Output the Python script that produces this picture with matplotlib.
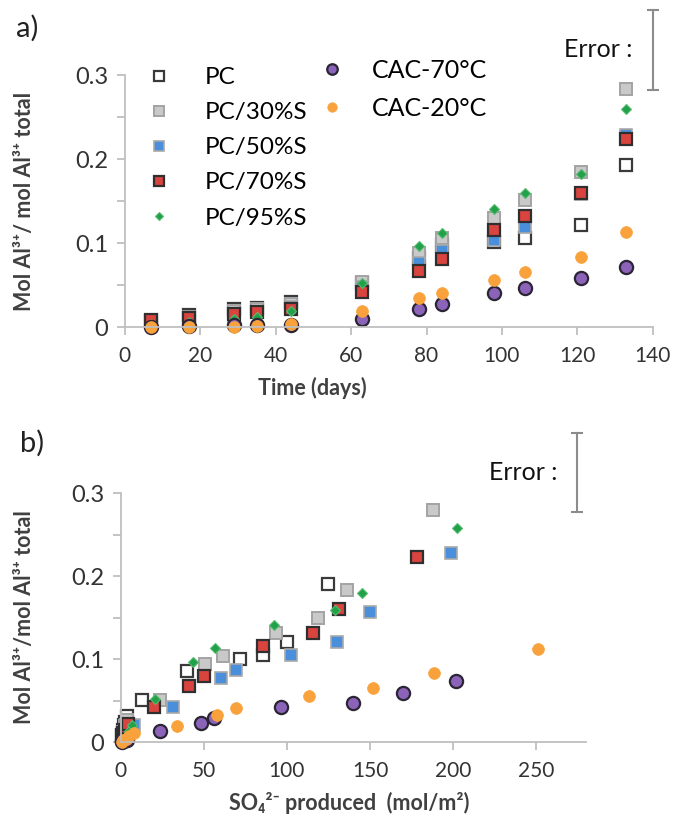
import matplotlib
matplotlib.use("Agg")
import matplotlib.pyplot as plt

plt.rcParams["font.family"] = ["Lato", "DejaVu Sans"]

# ---- panel a: Al3+ released vs time ----
DAYS = [7, 17, 29, 35, 44, 63, 78, 84, 98, 106, 121, 133]
A_PC = [0.007, 0.014, 0.021, 0.023, 0.030, 0.053, 0.082, 0.098, 0.101, 0.106, 0.122, 0.193]
A_S30 = [0.007, 0.012, 0.019, 0.021, 0.027, 0.054, 0.088, 0.106, 0.130, 0.151, 0.185, 0.283]
A_S50 = [0.006, 0.009, 0.013, 0.018, 0.024, 0.048, 0.076, 0.090, 0.104, 0.119, 0.158, 0.229]
A_S70 = [0.008, 0.011, 0.015, 0.0175, 0.022, 0.042, 0.067, 0.081, 0.115, 0.132, 0.160, 0.224]
A_S95 = [0.004, 0.006, 0.010, 0.012, 0.019, 0.052, 0.097, 0.112, 0.141, 0.160, 0.182, 0.260]
A_CAC70 = [0.0, 0.001, 0.002, 0.002, 0.002, 0.010, 0.022, 0.028, 0.041, 0.047, 0.058, 0.072]
A_CAC20 = [0.0, 0.0, 0.0005, 0.0015, 0.004, 0.019, 0.034, 0.040, 0.056, 0.065, 0.083, 0.113]

# ---- panel b: Al3+ released vs SO4 produced ----
B_PC_X = [0.8, 1.5, 2.2, 2.8, 3.5, 12.5, 39.8, 71.7, 85.7, 100.2, 124.9]
B_PC_Y = [0.007, 0.014, 0.020, 0.024, 0.031, 0.051, 0.085, 0.100, 0.105, 0.121, 0.190]
B_S30_X = [0.8, 1.5, 2.5, 3.0, 4.0, 23.3, 50.6, 61.4, 93.2, 118.5, 136.0, 188.2]
B_S30_Y = [0.007, 0.012, 0.019, 0.021, 0.027, 0.051, 0.094, 0.104, 0.131, 0.149, 0.183, 0.279]
B_S50_X = [1.0, 2.0, 3.5, 5.0, 8.2, 31.2, 60.2, 69.1, 102.3, 130.4, 150.1, 198.6]
B_S50_Y = [0.006, 0.009, 0.013, 0.018, 0.021, 0.042, 0.077, 0.087, 0.105, 0.120, 0.157, 0.228]
B_S70_X = [0.8, 1.5, 2.5, 3.5, 4.5, 20.0, 41.1, 50.2, 85.7, 115.6, 131.5, 178.1]
B_S70_Y = [0.008, 0.011, 0.015, 0.018, 0.022, 0.042, 0.0675, 0.080, 0.116, 0.131, 0.160, 0.223]
B_S95_X = [1.0, 2.0, 3.5, 5.0, 7.0, 20.5, 43.3, 56.6, 92.1, 128.8, 145.0, 202.2]
B_S95_Y = [0.004, 0.006, 0.010, 0.013, 0.020, 0.052, 0.097, 0.113, 0.141, 0.159, 0.180, 0.2575]
B_CAC70_X = [0.5, 1.0, 2.0, 3.0, 4.0, 23.3, 48.5, 56.0, 96.4, 139.5, 170.0, 201.8]
B_CAC70_Y = [0.0, 0.001, 0.002, 0.002, 0.003, 0.013, 0.023, 0.029, 0.042, 0.047, 0.059, 0.073]
B_CAC20_X = [0.5, 1.5, 3.0, 5.0, 8.0, 33.6, 57.7, 69.5, 113.0, 152.0, 188.6, 251.3]
B_CAC20_Y = [0.0, 0.002, 0.004, 0.007, 0.011, 0.019, 0.033, 0.041, 0.055, 0.0655, 0.0835, 0.112]

LABELS = ["PC", "PC/30%S", "PC/50%S", "PC/70%S", "PC/95%S", "CAC-70°C", "CAC-20°C"]
ERROR_HALF = 0.0475

STYLES = [
    dict(marker="s", ms=8.8, mfc="white", mec="#3a3a3a", mew=1.6),
    dict(marker="s", ms=8.8, mfc="#c9c9c9", mec="#a3a3a3", mew=1.4),
    dict(marker="s", ms=8.8, mfc="#4a8fdb", mec="#a9a9a9", mew=1.2),
    dict(marker="s", ms=8.8, mfc="#d9443f", mec="#2f2f2f", mew=1.6),
    dict(marker="D", ms=5.5, mfc="#22a14a", mec="#55bb6e", mew=0.8),
    dict(marker="o", ms=9.5, mfc="#8b63b8", mec="#2b2535", mew=1.6),
    dict(marker="o", ms=8.5, mfc="#f9a23c", mec="#f9a23c", mew=0.5),
]

AXIS_GREY = "#bfbfbf"
TEXT = "#333333"


def style_axis(ax, xmax, xticks):
  for side in ["top", "right"]:
    ax.spines[side].set_visible(False)
  for side in ["left", "bottom"]:
    ax.spines[side].set_color(AXIS_GREY)
    ax.spines[side].set_linewidth(1.3)
  ax.set_xlim(0, xmax)
  ax.set_ylim(0, 0.3)
  ax.set_xticks(xticks)
  ax.set_yticks([0, 0.1, 0.2, 0.3])
  ax.set_yticklabels(["0", "0.1", "0.2", "0.3"])
  ax.set_yticks([0.05, 0.15, 0.25], minor=True)
  ax.tick_params(axis="both", which="both", direction="out", length=6,
                 width=1.3, color=AXIS_GREY, labelcolor=TEXT)
  ax.tick_params(axis="y", labelsize=17, pad=6)
  ax.tick_params(axis="x", labelsize=15, pad=8)


def error_marker(ax, x, y, tx):
  ax.plot([x, x], [y - ERROR_HALF, y + ERROR_HALF], color="#8c8c8c", lw=1.5,
          marker="_", ms=9, mew=1.5, clip_on=False)
  ax.text(tx, y, "Error :", ha="right", va="center", fontsize=18, color="#111111")


fig = plt.figure(figsize=(6.75, 8.19), dpi=100)
ax_a = fig.add_axes([0.185, 0.6007, 0.782, 0.3077])
ax_b = fig.add_axes([0.179, 0.094, 0.689, 0.304])

a_series = [A_PC, A_S30, A_S50, A_S70, A_S95, A_CAC70, A_CAC20]
handles = []
for vals, st, lab in zip(a_series, STYLES, LABELS):
  h, = ax_a.plot(DAYS, vals, ls="none", label=lab, clip_on=False, **st)
  handles.append(h)

b_series = [(B_PC_X, B_PC_Y), (B_S30_X, B_S30_Y), (B_S50_X, B_S50_Y),
            (B_S70_X, B_S70_Y), (B_S95_X, B_S95_Y), (B_CAC70_X, B_CAC70_Y),
            (B_CAC20_X, B_CAC20_Y)]
for (xs, ys), st in zip(b_series, STYLES):
  ax_b.plot(xs, ys, ls="none", clip_on=False, **st)

style_axis(ax_a, 140, range(0, 141, 20))
style_axis(ax_b, 280, range(0, 251, 50))

leg1 = ax_a.legend(handles[:5], LABELS[:5], loc="upper left", bbox_to_anchor=(0.0, 1.07),
                   frameon=False, fontsize=17.5, labelspacing=0.58, handletextpad=0.9,
                   markerscale=0.8, borderaxespad=0)
ax_a.add_artist(leg1)
ax_a.legend(handles[5:], LABELS[5:], loc="upper left", bbox_to_anchor=(0.326, 1.105),
            frameon=False, fontsize=18, labelspacing=0.6, handletextpad=0.6,
            markerscale=0.8, borderaxespad=0)

error_marker(ax_a, 140, 0.33, 134.7)
error_marker(ax_b, 274.7, 0.325, 262.7)

label_kw = dict(fontsize=15.5, fontweight="bold", color="#404040")
ax_a.set_xlabel("Time (days)", **label_kw)
ax_a.xaxis.set_label_coords(0.356, -0.2)
ax_a.set_ylabel("Mol Al³⁺/ mol Al³⁺ total", **label_kw)
ax_a.yaxis.set_label_coords(-0.17, 0.5)

ax_b.set_xlabel("SO₄²⁻ produced  (mol/m²)", **label_kw)
ax_b.xaxis.set_label_coords(0.49, -0.2)
ax_b.set_ylabel("Mol Al³⁺/mol Al³⁺ total", **label_kw)
ax_b.yaxis.set_label_coords(-0.185, 0.5)

fig.text(0.024, 0.966, "a)", fontsize=21, color="#222222", va="center")
fig.text(0.03, 0.459, "b)", fontsize=21, color="#222222", va="center")

fig.savefig("out.png", dpi=100)
